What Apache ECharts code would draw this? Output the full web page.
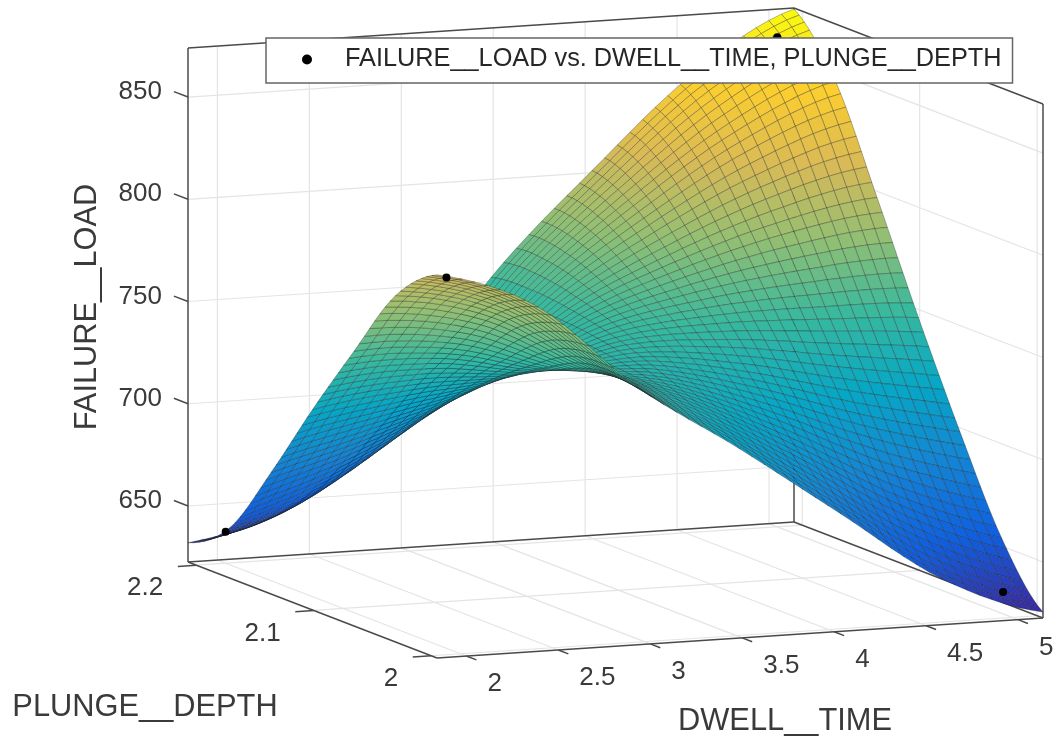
<!DOCTYPE html>
<html><head><meta charset="utf-8">
<style>html,body{margin:0;padding:0;background:#fff}#c{width:1057px;height:742px}</style>
<script src="https://cdn.jsdelivr.net/npm/echarts@6/dist/echarts.min.js"></script></head>
<body><div id="c"></div>
<script>
const dwellTicks=[2,2.5,3,3.5,4,4.5,5];
const depthTicks=[2,2.1,2.2];
const loadTicks=[650,700,750,800,850];
const dwellRange=[1.84,5.136], depthRange=[1.995,2.207], loadRange=[622.6,874];
const pointsDwell=[2,2,5,5], pointsDepth=[2.2,2.012,2.2,2.0077], pointsLoad=[638,804,862,633.3];
const load00=[810.0,808.7,807.1,805.3,803.2,800.7,797.9,794.7,791.0,786.7,781.7,776.2,770.4,764.4,758.6,753.1,748.0,743.4,739.1,735.0,731.0,727.1,723.2,719.2,715.0,710.7,706.4,702.0,697.6,693.2,688.8,684.4,680.0,675.5,670.9,666.2,661.5,657.0,652.7,648.6,645.0,641.7,638.6,635.7,633.1,630.7,628.6,626.9,625.5];
const load01=[808.7,807.5,806.0,804.2,802.1,799.7,797.0,793.8,790.3,786.1,781.2,775.9,770.2,764.5,758.8,753.4,748.5,744.1,739.9,735.9,732.1,728.3,724.5,720.7,716.6,712.5,708.2,703.9,699.6,695.3,690.9,686.6,682.2,677.8,673.2,668.6,664.0,659.5,655.2,651.2,647.5,644.2,641.1,638.2,635.5,633.1,630.9,629.1,627.6];
const load02=[807.2,806.0,804.6,802.9,800.9,798.5,795.9,792.8,789.4,785.4,780.6,775.5,770.0,764.4,758.9,753.7,749.0,744.7,740.7,736.9,733.2,729.6,726.0,722.3,718.4,714.3,710.2,706.0,701.8,697.5,693.2,689.0,684.7,680.4,675.9,671.3,666.8,662.3,658.1,654.1,650.5,647.2,644.0,641.1,638.4,635.9,633.8,631.9,630.3];
const load03=[805.3,804.2,802.9,801.2,799.3,797.1,794.5,791.6,788.3,784.4,779.9,774.9,769.6,764.2,758.9,753.9,749.3,745.2,741.4,737.8,734.4,730.9,727.5,723.9,720.1,716.2,712.2,708.1,704.0,699.9,695.7,691.5,687.4,683.1,678.7,674.2,669.8,665.4,661.3,657.3,653.8,650.5,647.4,644.4,641.7,639.3,637.0,635.1,633.4];
const load04=[803.2,802.2,800.9,799.4,797.6,795.4,793.0,790.2,787.0,783.3,778.9,774.1,769.0,763.9,758.8,754.0,749.6,745.7,742.1,738.7,735.4,732.2,728.9,725.5,721.9,718.2,714.3,710.4,706.4,702.4,698.3,694.2,690.2,686.0,681.8,677.4,673.0,668.8,664.7,660.9,657.3,654.1,651.0,648.1,645.4,642.9,640.7,638.7,637.0];
const load05=[800.8,799.9,798.7,797.3,795.6,793.5,791.2,788.6,785.5,782.0,777.8,773.2,768.3,763.4,758.5,753.9,749.8,746.1,742.7,739.5,736.4,733.4,730.3,727.1,723.7,720.1,716.4,712.6,708.8,704.9,701.0,697.0,693.1,689.1,684.9,680.7,676.5,672.3,668.3,664.6,661.1,657.9,654.9,652.0,649.4,646.9,644.7,642.7,640.9];
const load06=[798.1,797.3,796.2,794.9,793.3,791.4,789.2,786.7,783.8,780.5,776.5,772.1,767.5,762.7,758.1,753.8,749.8,746.3,743.2,740.2,737.4,734.5,731.7,728.7,725.5,722.0,718.5,714.9,711.2,707.4,703.7,699.9,696.1,692.2,688.2,684.1,680.0,676.0,672.1,668.4,665.1,661.9,659.0,656.2,653.6,651.1,648.9,646.9,645.1];
const load07=[795.2,794.5,793.5,792.3,790.8,789.1,787.0,784.6,781.9,778.7,775.0,770.8,766.4,761.9,757.5,753.4,749.7,746.4,743.5,740.8,738.1,735.6,732.9,730.1,727.1,723.9,720.5,717.1,713.5,709.9,706.3,702.7,699.0,695.3,691.4,687.5,683.5,679.7,675.9,672.4,669.1,666.1,663.2,660.4,657.9,655.5,653.3,651.3,649.5];
const load08=[792.0,791.4,790.6,789.5,788.1,786.4,784.5,782.3,779.8,776.8,773.2,769.3,765.1,760.9,756.7,752.8,749.4,746.4,743.6,741.1,738.8,736.4,734.0,731.5,728.6,725.6,722.4,719.2,715.8,712.4,708.9,705.4,701.9,698.4,694.7,690.9,687.1,683.3,679.7,676.3,673.2,670.2,667.4,664.8,662.3,659.9,657.8,655.8,654.0];
const load09=[788.4,788.0,787.2,786.3,785.0,783.5,781.7,779.7,777.3,774.5,771.2,767.5,763.6,759.6,755.7,752.1,748.8,746.1,743.6,741.4,739.2,737.1,735.0,732.6,730.1,727.2,724.2,721.2,718.0,714.8,711.5,708.2,704.9,701.5,697.9,694.3,690.7,687.1,683.7,680.4,677.3,674.5,671.8,669.3,666.8,664.6,662.5,660.5,658.7];
const load10=[784.5,784.1,783.5,782.7,781.6,780.2,778.6,776.7,774.6,772.0,768.9,765.4,761.8,758.1,754.4,751.1,748.1,745.6,743.4,741.4,739.6,737.7,735.8,733.7,731.4,728.8,726.0,723.1,720.2,717.1,714.1,710.9,707.8,704.6,701.3,697.8,694.4,691.0,687.7,684.6,681.7,679.0,676.4,674.0,671.7,669.5,667.5,665.6,663.8];
const load11=[780.2,780.0,779.5,778.8,777.8,776.6,775.2,773.5,771.6,769.2,766.3,763.1,759.7,756.3,753.0,749.9,747.2,745.0,743.0,741.3,739.8,738.2,736.6,734.7,732.6,730.3,727.7,725.1,722.4,719.5,716.6,713.7,710.8,707.8,704.7,701.5,698.2,695.1,692.0,689.0,686.3,683.7,681.3,678.9,676.7,674.7,672.7,670.9,669.2];
const load12=[775.7,775.6,775.2,774.7,773.9,772.9,771.6,770.1,768.3,766.2,763.6,760.7,757.6,754.4,751.4,748.6,746.2,744.2,742.6,741.1,739.9,738.6,737.2,735.7,733.8,731.7,729.4,727.0,724.5,721.9,719.2,716.6,713.9,711.1,708.2,705.2,702.1,699.2,696.3,693.5,690.9,688.5,686.2,684.0,682.0,680.0,678.2,676.4,674.8];
const load13=[771.0,771.0,770.8,770.4,769.8,768.9,767.8,766.5,765.0,763.1,760.7,758.1,755.3,752.4,749.7,747.2,745.0,743.3,742.0,740.9,739.9,738.9,737.8,736.6,735.0,733.1,731.1,728.9,726.6,724.3,721.8,719.4,716.9,714.3,711.7,708.9,706.1,703.3,700.6,698.1,695.7,693.4,691.3,689.3,687.3,685.5,683.7,682.1,680.5];
const load14=[766.2,766.4,766.4,766.1,765.6,764.9,764.0,762.9,761.6,759.9,757.8,755.4,752.9,750.3,747.9,745.7,743.8,742.4,741.4,740.6,739.9,739.2,738.4,737.4,736.1,734.5,732.7,730.8,728.8,726.6,724.4,722.2,719.9,717.6,715.2,712.6,710.1,707.5,705.0,702.7,700.5,698.4,696.4,694.5,692.7,691.0,689.4,687.8,686.4];
const load15=[761.6,761.9,762.0,761.8,761.5,761.0,760.2,759.3,758.2,756.7,754.9,752.8,750.5,748.3,746.1,744.2,742.6,741.5,740.8,740.2,739.8,739.5,739.0,738.3,737.2,735.9,734.3,732.7,730.9,729.0,727.0,725.0,723.0,720.9,718.7,716.4,714.0,711.7,709.4,707.3,705.2,703.3,701.5,699.8,698.2,696.6,695.1,693.6,692.2];
const load16=[757.0,757.4,757.7,757.7,757.5,757.1,756.5,755.8,754.8,753.6,752.0,750.2,748.2,746.2,744.3,742.7,741.4,740.6,740.1,739.9,739.8,739.7,739.5,739.1,738.3,737.2,735.9,734.5,732.9,731.3,729.5,727.8,726.0,724.1,722.1,720.1,718.0,715.9,713.8,711.8,710.0,708.3,706.6,705.0,703.5,702.1,700.7,699.3,698.0];
const load17=[752.5,753.1,753.4,753.6,753.5,753.2,752.8,752.3,751.5,750.5,749.2,747.6,745.9,744.2,742.6,741.3,740.3,739.7,739.5,739.6,739.8,740.0,740.0,739.9,739.4,738.6,737.5,736.3,735.0,733.6,732.1,730.5,729.0,727.3,725.6,723.7,721.9,720.0,718.1,716.4,714.7,713.2,711.7,710.3,708.9,707.6,706.3,705.0,703.8];
const load18=[748.1,748.7,749.2,749.4,749.5,749.4,749.1,748.7,748.2,747.4,746.3,745.0,743.5,742.1,740.8,739.8,739.0,738.8,738.9,739.2,739.7,740.2,740.6,740.7,740.4,739.9,739.1,738.1,737.1,735.9,734.6,733.3,731.9,730.5,729.0,727.4,725.8,724.1,722.5,720.9,719.5,718.1,716.8,715.5,714.3,713.1,712.0,710.8,709.6];
const load19=[743.5,744.3,744.9,745.3,745.5,745.5,745.4,745.2,744.8,744.3,743.4,742.3,741.2,740.0,739.0,738.2,737.8,737.8,738.2,738.8,739.6,740.4,741.0,741.4,741.5,741.2,740.6,739.9,739.1,738.1,737.1,736.0,734.9,733.8,732.5,731.1,729.7,728.3,726.9,725.5,724.3,723.1,721.9,720.8,719.8,718.7,717.7,716.7,715.6];
const load20=[739.0,739.9,740.6,741.1,741.4,741.6,741.6,741.6,741.4,741.1,740.4,739.6,738.7,737.9,737.1,736.6,736.5,736.8,737.4,738.4,739.5,740.5,741.5,742.2,742.5,742.4,742.2,741.7,741.1,740.4,739.6,738.8,737.9,737.0,736.0,734.8,733.7,732.5,731.3,730.2,729.1,728.1,727.1,726.2,725.3,724.4,723.5,722.5,721.6];
const load21=[734.5,735.4,736.2,736.8,737.3,737.6,737.8,737.9,738.0,737.8,737.4,736.9,736.3,735.7,735.2,735.0,735.1,735.7,736.7,737.9,739.3,740.6,741.9,742.9,743.4,743.7,743.6,743.5,743.1,742.6,742.1,741.5,740.9,740.2,739.4,738.5,737.6,736.7,735.7,734.8,733.9,733.1,732.3,731.6,730.8,730.1,729.3,728.5,727.6];
const load22=[729.9,731.0,731.8,732.6,733.1,733.6,733.9,734.2,734.5,734.5,734.4,734.1,733.7,733.4,733.3,733.3,733.7,734.6,735.8,737.4,739.0,740.7,742.2,743.5,744.4,744.8,745.1,745.2,745.1,744.9,744.5,744.2,743.8,743.4,742.9,742.2,741.6,740.9,740.1,739.4,738.8,738.1,737.5,737.0,736.4,735.8,735.2,734.5,733.7];
const load23=[725.3,726.4,727.4,728.2,728.9,729.5,730.0,730.5,730.9,731.2,731.2,731.2,731.1,731.1,731.2,731.6,732.3,733.4,735.0,736.8,738.7,740.7,742.5,744.1,745.2,746.0,746.5,746.8,747.0,747.0,747.0,746.9,746.7,746.6,746.3,745.9,745.5,745.0,744.6,744.1,743.6,743.2,742.8,742.4,742.0,741.6,741.1,740.5,739.8];
const load24=[720.6,721.9,722.9,723.9,724.7,725.4,726.0,726.6,727.2,727.7,728.1,728.3,728.5,728.7,729.1,729.8,730.7,732.2,734.0,736.1,738.4,740.7,742.8,744.6,746.0,747.1,747.9,748.5,748.9,749.2,749.4,749.5,749.6,749.7,749.7,749.6,749.4,749.2,749.0,748.7,748.5,748.2,748.0,747.8,747.6,747.3,747.0,746.6,746.0];
const load25=[715.9,717.2,718.4,719.4,720.3,721.2,722.0,722.7,723.5,724.2,724.8,725.2,725.7,726.3,727.0,727.9,729.1,730.8,733.0,735.4,738.0,740.5,743.0,745.1,746.8,748.1,749.2,750.0,750.7,751.3,751.7,752.1,752.5,752.8,753.1,753.3,753.3,753.4,753.4,753.4,753.3,753.3,753.3,753.3,753.3,753.2,753.0,752.7,752.2];
const load26=[711.0,712.4,713.7,714.8,715.9,716.8,717.8,718.7,719.7,720.6,721.4,722.1,722.9,723.7,724.7,725.9,727.5,729.4,731.9,734.6,737.5,740.4,743.1,745.5,747.5,749.1,750.5,751.6,752.5,753.3,754.1,754.7,755.4,756.0,756.5,756.9,757.3,757.6,757.9,758.1,758.3,758.5,758.7,758.9,759.0,759.1,759.1,758.9,758.6];
const load27=[706.1,707.6,709.0,710.2,711.4,712.5,713.6,714.7,715.8,717.0,718.0,719.0,720.0,721.1,722.4,723.9,725.7,728.0,730.7,733.8,736.9,740.1,743.2,745.9,748.2,750.1,751.7,753.1,754.3,755.4,756.4,757.3,758.2,759.1,759.9,760.6,761.2,761.8,762.3,762.8,763.2,763.6,764.1,764.4,764.8,765.0,765.2,765.2,765.0];
const load28=[701.2,702.8,704.2,705.6,706.8,708.1,709.3,710.6,711.9,713.2,714.5,715.7,717.0,718.4,720.0,721.8,723.9,726.5,729.5,732.9,736.4,739.9,743.2,746.3,748.8,751.0,752.9,754.6,756.1,757.4,758.7,759.9,761.1,762.2,763.3,764.3,765.2,766.0,766.8,767.5,768.2,768.8,769.4,770.1,770.6,771.0,771.3,771.5,771.4];
const load29=[696.3,698.0,699.5,700.9,702.3,703.6,705.0,706.4,707.9,709.5,711.0,712.5,714.0,715.7,717.6,719.7,722.1,724.9,728.3,731.9,735.7,739.5,743.2,746.5,749.4,751.9,754.1,756.0,757.8,759.4,760.9,762.4,763.9,765.3,766.6,767.9,769.1,770.2,771.2,772.2,773.1,774.0,774.8,775.6,776.4,777.0,777.5,777.8,777.9];
const load30=[691.4,693.2,694.8,696.3,697.7,699.2,700.7,702.3,704.0,705.7,707.5,709.2,711.0,713.0,715.1,717.5,720.2,723.3,727.0,730.9,735.1,739.2,743.2,746.8,750.0,752.7,755.2,757.4,759.4,761.3,763.1,764.9,766.6,768.3,769.9,771.5,773.0,774.3,775.7,776.9,778.0,779.1,780.2,781.2,782.2,783.0,783.6,784.1,784.3];
const load31=[686.7,688.5,690.1,691.7,693.3,694.8,696.5,698.2,700.1,702.0,703.9,705.9,708.0,710.2,712.7,715.3,718.3,721.8,725.7,729.9,734.4,738.8,743.1,747.0,750.5,753.5,756.2,758.8,761.1,763.2,765.3,767.3,769.3,771.3,773.2,775.0,776.8,778.4,780.0,781.5,782.9,784.2,785.5,786.7,787.9,788.9,789.7,790.3,790.7];
const load32=[682.0,683.8,685.6,687.2,688.9,690.5,692.3,694.1,696.2,698.3,700.5,702.7,705.0,707.5,710.2,713.2,716.4,720.2,724.4,728.9,733.7,738.4,743.0,747.2,751.0,754.3,757.3,760.1,762.7,765.1,767.4,769.7,772.0,774.2,776.4,778.5,780.5,782.5,784.3,786.0,787.6,789.2,790.7,792.2,793.5,794.7,795.7,796.5,797.0];
const load33=[677.3,679.2,681.0,682.7,684.4,686.2,688.1,690.1,692.3,694.6,697.0,699.4,702.0,704.8,707.8,711.0,714.5,718.5,723.0,727.9,732.9,738.0,742.8,747.4,751.4,755.0,758.3,761.4,764.2,766.9,769.5,772.1,774.6,777.2,779.6,782.0,784.3,786.5,788.6,790.6,792.5,794.2,796.0,797.7,799.2,800.6,801.8,802.7,803.4];
const load34=[672.5,674.5,676.3,678.1,679.9,681.8,683.7,685.9,688.2,690.8,693.3,696.1,698.9,702.0,705.2,708.7,712.5,716.8,721.6,726.8,732.1,737.5,742.7,747.5,751.9,755.7,759.3,762.7,765.8,768.8,771.7,774.5,777.3,780.1,782.9,785.6,788.2,790.6,793.0,795.3,797.4,799.4,801.4,803.3,805.0,806.6,808.0,809.1,809.9];
const load35=[667.7,669.7,671.6,673.5,675.3,677.3,679.4,681.7,684.2,686.9,689.7,692.7,695.8,699.1,702.6,706.4,710.5,715.1,720.2,725.6,731.3,737.0,742.5,747.6,752.3,756.4,760.3,763.9,767.3,770.6,773.8,776.9,780.0,783.1,786.1,789.1,792.0,794.8,797.4,799.9,802.3,804.5,806.8,808.9,810.9,812.7,814.2,815.5,816.5];
const load36=[663.0,665.0,667.0,668.9,670.8,672.9,675.1,677.5,680.2,683.1,686.1,689.3,692.6,696.2,700.0,704.1,708.5,713.3,718.7,724.5,730.4,736.4,742.2,747.7,752.6,757.1,761.2,765.1,768.8,772.4,775.8,779.2,782.6,786.0,789.3,792.6,795.8,798.8,801.8,804.5,807.1,809.6,812.1,814.4,816.6,818.7,820.4,821.9,823.0];
const load37=[658.5,660.5,662.5,664.5,666.5,668.6,670.9,673.4,676.3,679.3,682.5,685.9,689.6,693.4,697.5,701.8,706.4,711.6,717.2,723.3,729.6,735.8,741.9,747.7,752.9,757.7,762.1,766.3,770.3,774.1,777.8,781.5,785.1,788.8,792.4,795.9,799.4,802.8,806.0,809.0,811.9,814.6,817.3,819.8,822.3,824.5,826.4,828.0,829.3];
const load38=[654.3,656.3,658.3,660.3,662.3,664.5,666.9,669.5,672.5,675.7,679.1,682.7,686.6,690.6,695.0,699.6,704.5,709.8,715.8,722.1,728.7,735.2,741.6,747.7,753.2,758.2,762.9,767.3,771.6,775.7,779.6,783.6,787.5,791.4,795.3,799.1,802.9,806.5,810.0,813.3,816.3,819.3,822.2,825.0,827.6,830.0,832.1,833.9,835.3];
const load39=[650.4,652.4,654.4,656.4,658.5,660.7,663.1,665.9,668.9,672.3,675.8,679.7,683.7,688.0,692.6,697.4,702.5,708.2,714.4,721.0,727.8,734.6,741.3,747.6,753.4,758.6,763.6,768.3,772.8,777.1,781.3,785.5,789.7,793.8,798.0,802.1,806.1,810.0,813.7,817.2,820.5,823.7,826.8,829.8,832.6,835.2,837.5,839.4,840.9];
const load40=[647.0,649.0,650.9,652.9,655.0,657.2,659.7,662.5,665.6,669.1,672.8,676.8,681.0,685.5,690.3,695.4,700.7,706.6,713.0,719.8,726.9,734.0,740.9,747.5,753.5,759.0,764.2,769.1,773.8,778.4,782.8,787.2,791.6,796.0,800.4,804.8,809.0,813.1,817.1,820.8,824.3,827.7,831.0,834.2,837.1,839.9,842.3,844.4,846.0];
const load41=[644.1,646.0,647.8,649.8,651.8,654.1,656.6,659.4,662.6,666.2,670.0,674.1,678.5,683.2,688.2,693.5,699.0,705.0,711.7,718.8,726.1,733.4,740.5,747.3,753.5,759.3,764.7,769.8,774.7,779.5,784.2,788.8,793.4,798.0,802.6,807.2,811.7,816.0,820.2,824.1,827.8,831.4,834.9,838.2,841.3,844.2,846.8,848.9,850.7];
const load42=[641.5,643.3,645.1,647.0,649.0,651.2,653.7,656.6,659.8,663.5,667.4,671.7,676.2,681.1,686.2,691.7,697.4,703.6,710.5,717.7,725.2,732.8,740.2,747.2,753.6,759.5,765.1,770.5,775.6,780.6,785.4,790.2,795.1,799.9,804.7,809.5,814.2,818.7,823.1,827.3,831.1,834.9,838.5,842.0,845.3,848.3,850.9,853.2,855.0];
const load43=[639.3,641.0,642.7,644.5,646.4,648.6,651.1,653.9,657.2,660.9,665.0,669.3,674.0,679.0,684.3,689.9,695.8,702.2,709.3,716.7,724.5,732.2,739.8,747.0,753.6,759.7,765.5,771.1,776.4,781.5,786.6,791.6,796.6,801.6,806.7,811.6,816.5,821.3,825.8,830.2,834.2,838.1,841.9,845.5,848.9,852.1,854.8,857.2,859.1];
const load44=[637.3,638.9,640.5,642.2,644.1,646.2,648.6,651.5,654.8,658.5,662.6,667.1,671.9,677.1,682.5,688.3,694.3,700.9,708.1,715.7,723.6,731.6,739.4,746.8,753.6,759.9,765.8,771.5,777.0,782.3,787.6,792.8,797.9,803.2,808.4,813.6,818.6,823.6,828.3,832.8,837.0,841.1,845.0,848.8,852.3,855.5,858.4,860.9,862.8];
const load45=[635.6,637.1,638.6,640.1,641.9,644.0,646.4,649.2,652.5,656.2,660.4,665.0,669.9,675.2,680.7,686.6,692.8,699.5,706.9,714.7,722.8,730.9,738.8,746.4,753.4,759.9,766.0,771.9,777.5,783.0,788.4,793.7,799.1,804.5,809.9,815.3,820.5,825.6,830.5,835.2,839.6,843.7,847.8,851.7,855.3,858.7,861.6,864.1,866.1];
const load46=[634.2,635.5,636.8,638.3,639.9,641.9,644.2,647.0,650.2,654.0,658.3,662.9,667.9,673.3,679.0,685.0,691.3,698.1,705.6,713.6,721.8,730.1,738.2,746.0,753.1,759.7,766.0,772.0,777.8,783.5,789.0,794.5,800.0,805.6,811.1,816.7,822.1,827.4,832.4,837.3,841.7,846.0,850.2,854.2,858.0,861.4,864.4,867.0,869.1];
const load47=[633.0,634.1,635.3,636.6,638.1,639.9,642.2,644.9,648.1,651.9,656.1,660.8,665.9,671.4,677.2,683.3,689.7,696.6,704.3,712.4,720.8,729.2,737.5,745.4,752.7,759.4,765.8,772.0,777.9,783.7,789.4,795.0,800.7,806.4,812.1,817.8,823.4,828.8,834.0,839.0,843.6,848.0,852.3,856.4,860.2,863.7,866.8,869.5,871.5];
const load48=[632.0,632.9,633.9,635.0,636.4,638.1,640.2,642.8,646.0,649.8,654.0,658.7,663.9,669.4,675.3,681.5,688.0,695.0,702.8,711.0,719.6,728.1,736.5,744.6,752.0,758.9,765.4,771.7,777.8,783.7,789.5,795.2,801.0,806.8,812.7,818.5,824.3,829.9,835.2,840.3,845.0,849.5,853.9,858.1,862.0,865.6,868.7,871.4,873.5];
const table=[load00,load01,load02,load03,load04,load05,load06,load07,load08,load09,load10,load11,load12,load13,load14,load15,load16,load17,load18,load19,load20,load21,load22,load23,load24,load25,load26,load27,load28,load29,load30,load31,load32,load33,load34,load35,load36,load37,load38,load39,load40,load41,load42,load43,load44,load45,load46,load47,load48];
const N=table.length-1;
const parula=['#3b2aa0','#0f60e0','#1485d4','#06a7c6','#38b99e','#92bf73','#d9ba56','#fcce2e','#f9fb0e'];
function hex(c){return [1,3,5].map(k=>parseInt(c.substr(k,2),16))}
function colorOf(z){let t=(z-625.5)/(873.5-625.5);t=Math.max(0,Math.min(1,t))*(parula.length-1);const i=Math.min(parula.length-2,Math.floor(t)),a=hex(parula[i]),b=hex(parula[i+1]),f=t-i;return `rgb(${a.map((x,k)=>Math.round(x+(b[k]-x)*f)).join(',')})`}
function proj(d,p,l){const u=(d-dwellRange[0])/(dwellRange[1]-dwellRange[0]),v=(p-depthRange[0])/(depthRange[1]-depthRange[0]),w=(l-loadRange[0])/(loadRange[1]-loadRange[0]);return [437+606*u-249*v,658-40*u-96*v-514*w]}
const [dA,dB]=dwellRange,[pA,pB]=depthRange,[lA,lB]=loadRange;
const segs=[];const G='#e4e4e4',K='#4a4a4a';
dwellTicks.forEach(d=>{segs.push([d,pA,lA,d,pB,lA,G],[d,pB,lA,d,pB,lB,G])});
depthTicks.forEach(p=>{segs.push([dA,p,lA,dB,p,lA,G],[dB,p,lA,dB,p,lB,G])});
loadTicks.forEach(l=>{segs.push([dA,pB,l,dB,pB,l,G],[dB,pB,l,dB,pA,l,G])});
[[dA,pB,lA,dA,pB,lB],[dA,pB,lB,dB,pB,lB],[dB,pB,lB,dB,pA,lB],[dB,pA,lB,dB,pA,lA],[dB,pB,lA,dB,pB,lB],[dA,pB,lA,dB,pB,lA],[dB,pB,lA,dB,pA,lA],[dA,pB,lA,dA,pA,lA],[dA,pA,lA,dB,pA,lA]].forEach(s=>segs.push([...s,K]));
const cells=[];for(let j=N-1;j>=0;j--)for(let i=N-1;i>=0;i--)cells.push([i,j]);
const du=dB-dA,dp=pB-pA;
const F='"Liberation Sans",Arial,sans-serif',T='#3a3a3a';
const labels=[];
dwellTicks.forEach(d=>{const q=proj(d,pA,lA);labels.push([String(d),q[0]+21,q[1]+28,'left',26,0,T]);segs.push([d,pA,lA,d,pA-0.0085,lA,K])});
depthTicks.forEach(p=>{const q=proj(dA,p,lA);labels.push([String(p),q[0]-33,q[1]+23,'right',26,0,T]);segs.push([dA,p,lA,dA-0.1,p,lA,K])});
loadTicks.forEach(l=>{const q=proj(dA,pB,l);labels.push([String(l),162,q[1]-5,'right',26,0,T]);segs.push([dA,pB,l,dA,pB+0.012,l,K])});
labels.push(['FAILURE__LOAD',88,307,'center',30.8,Math.PI/2,T],['PLUNGE__DEPTH',145,708,'center',30.8,0,T],['DWELL__TIME',785,722,'center',30.8,0,T]);
const chart=echarts.init(document.getElementById('c'),null,{renderer:'canvas'});
chart.setOption({animation:false,
grid:{left:0,top:0,right:0,bottom:0},
xAxis:{type:'value',min:0,max:1057,show:false},yAxis:{type:'value',min:0,max:742,inverse:true,show:false},
legend:{left:266,top:38,data:['FAILURE__LOAD vs. DWELL__TIME, PLUNGE__DEPTH'],icon:'circle',itemWidth:10,itemHeight:10,padding:[9,11,11,36],backgroundColor:'#fff',borderColor:'#666',borderWidth:1.5,borderRadius:0,selectedMode:false,
 textStyle:{fontFamily:F,fontSize:25.3,color:'#262626',padding:[0,0,0,28]},z:20},
series:[
{type:'custom',coordinateSystem:'cartesian2d',silent:true,z:1,data:segs.map((s,i)=>[i]),encode:{x:[],y:[]},clip:false,renderItem:(p,api)=>{const s=segs[p.dataIndex];const a=api.coord(proj(s[0],s[1],s[2])),b=api.coord(proj(s[3],s[4],s[5]));return {type:'line',shape:{x1:a[0],y1:a[1],x2:b[0],y2:b[1]},style:{stroke:s[6],lineWidth:s[6]===G?1.2:1.5}}}},
{type:'custom',coordinateSystem:'cartesian2d',silent:true,z:2,data:cells,clip:false,encode:{x:[],y:[]},renderItem:(p,api)=>{const [i,j]=cells[p.dataIndex];const pt=(a,b)=>api.coord(proj(dA+du*a/N,pA+dp*b/N,table[b][a]));const z=(table[j][i]+table[j][i+1]+table[j+1][i]+table[j+1][i+1])/4;return {type:'polygon',shape:{points:[pt(i,j),pt(i+1,j),pt(i+1,j+1),pt(i,j+1)]},style:{fill:colorOf(z),stroke:'rgba(30,30,30,0.45)',lineWidth:0.7}}}},
{type:'scatter',name:'FAILURE__LOAD vs. DWELL__TIME, PLUNGE__DEPTH',z:3,symbolSize:8,itemStyle:{color:'#000',opacity:1},data:pointsDwell.map((d,i)=>proj(d,pointsDepth[i],pointsLoad[i]))},
{type:'custom',coordinateSystem:'cartesian2d',silent:true,z:4,data:labels.map((s,i)=>[i]),clip:false,encode:{x:[],y:[]},renderItem:(p,api)=>{const s=labels[p.dataIndex];const a=api.coord([s[1],s[2]]);return {type:'text',x:a[0],y:a[1],rotation:s[5],style:{text:s[0],textAlign:s[3],textVerticalAlign:'middle',font:`${s[4]}px ${F}`,fill:s[6]}}}}
]});
</script></body></html>
